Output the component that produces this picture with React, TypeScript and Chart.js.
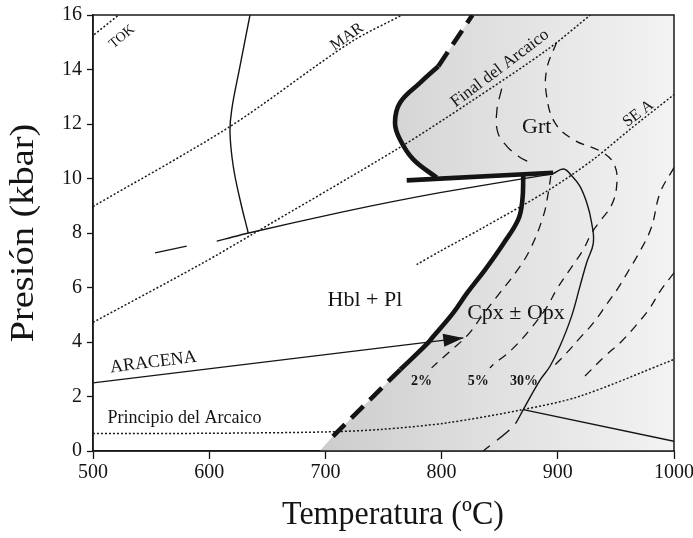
import React, { useEffect, useRef } from 'react';
import { Chart, registerables } from 'chart.js';

Chart.register(...registerables);

// ---------- axes ----------
const temperatureTicks = [500, 600, 700, 800, 900, 1000];
const pressureTicks = [0, 2, 4, 6, 8, 10, 12, 14, 16];

// ---------- geotherms (dotted) ----------
const tokT = [501, 522];
const tokP = [15.28, 16.0];
const marT = [500, 618, 721, 766];
const marP = [8.97, 11.91, 14.98, 16.0];
const finalArcaicoT = [500, 592, 637, 764, 824, 891, 928];
const finalArcaicoP = [4.72, 6.84, 7.95, 11.14, 12.79, 14.73, 16.0];
const seaT = [778.5, 798.6, 833, 893, 930.6, 962, 1000];
const seaP = [6.84, 7.33, 8.13, 9.6, 10.7, 11.8, 13.08];
const principioT = [500, 600, 700, 747, 804, 870, 919, 1000];
const principioP = [0.64, 0.65, 0.7, 0.79, 1.03, 1.52, 2.01, 3.36];

// ---------- ARACENA path ----------
const aracenaT = [500, 818.7];
const aracenaP = [2.5, 4.15];

// ---------- thin solid boundaries ----------
const hblOutT = [635.1, 626.5, 619.4, 617.9, 620.7, 626.5, 633.6];
const hblOutP = [16, 14.12, 12.53, 11.68, 10.45, 9.23, 8.0];
const hblPlT = [606.5, 634, 712, 798.6, 893];
const hblPlP = [7.7, 8.0, 8.75, 9.48, 10.15];
const hblPlExtT = [553.4, 580.6];
const hblPlExtP = [7.27, 7.52];
const melt30T = [896, 905, 912, 919, 925, 929, 930.6, 924.8, 919.1, 911.9, 901.9, 893.3, 884.7, 870.3];
const melt30P = [10.18, 10.35, 10.1, 9.72, 9.1, 8.4, 7.64, 6.91, 6.05, 4.95, 3.85, 3.11, 2.6, 1.52];
const melt30TailT = [870.3, 861.7, 835.9];
const melt30TailP = [1.52, 0.91, 0.0];
const lowRightT = [870.3, 1000];
const lowRightP = [1.52, 0.36];

// ---------- solidus (bold) ----------
const solidusHorizT = [770, 896];
const solidusHorizP = [9.93, 10.21];
const solidusUpperT = [797.2, 781.4, 764.2, 759.9, 764.2, 775.6, 795.8];
const solidusUpperP = [14.12, 13.51, 12.78, 12.04, 11.43, 10.7, 10.03];
const solidusUpperDashT = [797.2, 826.5];
const solidusUpperDashP = [14.12, 16.0];
const solidusLowerT = [870.3, 869.5, 866, 853, 837.5, 822, 810, 793, 787, 764.5];
const solidusLowerP = [10.15, 9.2, 8.5, 7.6, 6.66, 5.8, 5.07, 4.21, 3.91, 2.99];
const solidusLowerDashT = [764.5, 706.5];
const solidusLowerDashP = [2.99, 0.54];
const shadeEdgeT = [695];

// ---------- thin dashed (Grt field and melt isopleths) ----------
const grtLeftT = [851.7, 847.6, 848.3, 856, 866, 876];
const grtLeftP = [13.3, 12.5, 11.7, 11.19, 10.82, 10.58];
const melt5T = [899, 890.4, 890.4, 897.6, 913.3, 939.2, 949.2, 950.6, 946, 936.3, 929.1, 921.9, 910.4, 899, 891, 876.1, 860.3, 844.5, 841.5];
const melt5P = [15.0, 14.0, 13.02, 12.04, 11.43, 10.94, 10.45, 9.7, 9.0, 8.43, 8.0, 7.39, 6.66, 5.93, 5.31, 4.46, 3.72, 3.17, 3.05];
const melt2T = [894, 891.8, 887.5, 876.1, 864.6, 850.3, 834.6, 823, 807.2, 791.4];
const melt2P = [10.1, 9.47, 8.62, 7.39, 6.6, 5.81, 4.95, 4.28, 3.66, 3.05];
const isoAT = [1000, 988, 980.5, 970.7, 961.5, 952, 942, 930.6, 919.1, 907.6, 894];
const isoAP = [10.4, 9.47, 8.2, 7.33, 6.66, 5.99, 5.38, 4.7, 4.15, 3.6, 3.0];
const isoBT = [1000, 988, 979.3, 967.9, 955, 940.6, 923.4];
const isoBP = [6.54, 5.86, 5.25, 4.64, 4.03, 3.48, 2.75];

// ---------- text ----------
const xTitle = 'Temperatura (ºC)';
const yTitle = 'Presión (kbar)';
const plotLabels = [
  { text: 'Hbl + Pl', t: 734, p: 5.32, size: 22, angle: 0, bold: false, middle: false },
  { text: 'Cpx ± Opx', t: 864, p: 4.85, size: 22, angle: 0, bold: false, middle: false },
  { text: 'Grt', t: 881.8, p: 11.68, size: 22, angle: 0, bold: false, middle: false },
  { text: '2%', t: 782.8, p: 2.44, size: 14, angle: 0, bold: true, middle: false },
  { text: '5%', t: 831.6, p: 2.44, size: 14, angle: 0, bold: true, middle: false },
  { text: '30%', t: 871, p: 2.44, size: 14, angle: 0, bold: true, middle: false },
  { text: 'ARACENA', t: 552.5, p: 3.08, size: 18, angle: -7.1, bold: false, middle: false },
  { text: 'Principio del Arcaico', t: 578.7, p: 1.03, size: 18, angle: 0, bold: false, middle: false },
  { text: 'TOK', t: 525, p: 15.2, size: 14, angle: -40, bold: false, middle: true },
  { text: 'MAR', t: 718.6, p: 15.2, size: 16, angle: -35, bold: false, middle: true },
  { text: 'Final del Arcaico', t: 850.3, p: 14.04, size: 17, angle: -37, bold: false, middle: true },
  { text: 'SE A', t: 969.3, p: 12.38, size: 16, angle: -37, bold: false, middle: true },
];

const INK = '#141414';
const SERIF = '"Liberation Serif", "Times New Roman", "DejaVu Serif", serif';

const pts = (t: number[], p: number[]) => t.map((v, i) => ({ x: v, y: p[i] }));

type Kind = 'dotted' | 'thin' | 'bold' | 'boldDash' | 'dash' | 'grtDash' | 'longDash';

function line(label: string, t: number[], p: number[], kind: Kind, tension = 0.35) {
  const base: any = {
    label,
    data: pts(t, p),
    showLine: true,
    pointRadius: 0,
    pointHoverRadius: 0,
    fill: false,
    tension,
    borderColor: INK,
    borderCapStyle: 'butt',
    borderJoinStyle: 'round',
  };
  switch (kind) {
    case 'dotted':
      return { ...base, borderWidth: 1.5, borderDash: [2, 2], borderColor: '#1a1a1a' };
    case 'thin':
      return { ...base, borderWidth: 1.4 };
    case 'bold':
      return { ...base, borderWidth: 4.6 };
    case 'boldDash':
      return { ...base, borderWidth: 4.6, borderDash: [17, 9] };
    case 'dash':
      return { ...base, borderWidth: 1.3, borderDash: [9, 7] };
    case 'grtDash':
      return { ...base, borderWidth: 1.3, borderDash: [11, 8] };
    case 'longDash':
      return { ...base, borderWidth: 1.4, borderDash: [16, 9] };
  }
}

const figurePlugin = {
  id: 'figureExtras',
  afterDatasetsDraw(chart: any) {
    const { ctx, chartArea, scales } = chart;
    const xs = scales.x;
    const ys = scales.y;
    ctx.save();

    // arrow head at end of ARACENA path
    const idx = chart.data.datasets.findIndex((d: any) => d.label === 'ARACENA');
    if (idx >= 0) {
      const meta = chart.getDatasetMeta(idx);
      const n = meta.data.length;
      const a = meta.data[n - 2];
      const b = meta.data[n - 1];
      const ang = Math.atan2(b.y - a.y, b.x - a.x);
      const len = 20;
      const half = 6.5;
      const bx = b.x - len * Math.cos(ang);
      const by = b.y - len * Math.sin(ang);
      ctx.beginPath();
      ctx.moveTo(b.x, b.y);
      ctx.lineTo(bx + half * Math.sin(ang), by - half * Math.cos(ang));
      ctx.lineTo(bx - half * Math.sin(ang), by + half * Math.cos(ang));
      ctx.closePath();
      ctx.fillStyle = INK;
      ctx.fill();
    }

    // frame
    ctx.strokeStyle = '#1a1a1a';
    ctx.lineWidth = 1.5;
    ctx.strokeRect(chartArea.left, chartArea.top, chartArea.right - chartArea.left, chartArea.bottom - chartArea.top);

    // labels inside the plot
    ctx.fillStyle = INK;
    ctx.textAlign = 'center';
    for (const l of plotLabels) {
      const px = xs.getPixelForValue(l.t);
      const py = ys.getPixelForValue(l.p);
      ctx.save();
      ctx.translate(px, py);
      ctx.rotate((l.angle * Math.PI) / 180);
      ctx.font = `${l.bold ? 'bold ' : ''}${l.size}px ${SERIF}`;
      ctx.textBaseline = l.middle ? 'middle' : 'alphabetic';
      ctx.fillText(l.text, 0, 0);
      ctx.restore();
    }

    // axis titles
    ctx.save();
    ctx.font = `32px ${SERIF}`;
    ctx.textBaseline = 'alphabetic';
    ctx.translate(393, 524);
    ctx.scale(1, 1.08);
    ctx.fillText(xTitle, 0, 0);
    ctx.restore();

    ctx.save();
    ctx.font = `34px ${SERIF}`;
    ctx.textBaseline = 'alphabetic';
    ctx.translate(33, (chartArea.top + chartArea.bottom) / 2);
    ctx.rotate(-Math.PI / 2);
    ctx.scale(1.13, 1);
    ctx.fillText(yTitle, 0, 0);
    ctx.restore();

    ctx.restore();
  },
};

export default function App() {
  const canvasRef = useRef<HTMLCanvasElement | null>(null);

  useEffect(() => {
    document.body.style.margin = '0';
    const canvas = canvasRef.current;
    if (!canvas) return;

    const shadePolygon = [
      { x: shadeEdgeT[0], y: 0 },
      ...pts(solidusLowerDashT, solidusLowerDashP).reverse(),
      ...pts(solidusLowerT, solidusLowerP).reverse().slice(1),
      ...pts(solidusUpperT, solidusUpperP).reverse(),
      ...pts(solidusUpperDashT, solidusUpperDashP).slice(1),
      { x: 1000, y: 16 },
      { x: 1000, y: 0 },
    ];

    const shade: any = {
      label: 'melt field',
      data: shadePolygon,
      showLine: true,
      pointRadius: 0,
      tension: 0,
      borderWidth: 0,
      borderColor: 'rgba(0,0,0,0)',
      fill: 'shape',
      order: 10,
      backgroundColor: (c: any) => {
        const ch = c.chart;
        if (!ch.chartArea || !ch.scales || !ch.scales.x) return '#e0e0e0';
        const xs = ch.scales.x;
        const g = ch.ctx.createLinearGradient(xs.getPixelForValue(700), 0, xs.getPixelForValue(1000), 0);
        g.addColorStop(0, '#cdcdcd');
        g.addColorStop(0.35, '#dbdbdb');
        g.addColorStop(0.7, '#e8e8e8');
        g.addColorStop(1, '#f3f3f3');
        return g;
      },
    };

    const datasets: any[] = [
      shade,
      line('TOK', tokT, tokP, 'dotted', 0),
      line('MAR', marT, marP, 'dotted', 0.3),
      line('Final del Arcaico', finalArcaicoT, finalArcaicoP, 'dotted', 0.3),
      line('SE A', seaT, seaP, 'dotted', 0.3),
      line('Principio del Arcaico', principioT, principioP, 'dotted', 0.3),
      line('ARACENA', aracenaT, aracenaP, 'thin', 0),
      line('Hbl out', hblOutT, hblOutP, 'thin', 0.4),
      line('Hbl+Pl upper', hblPlT, hblPlP, 'thin', 0.2),
      line('Hbl+Pl ext', hblPlExtT, hblPlExtP, 'thin', 0),
      line('30%', melt30T, melt30P, 'thin', 0.4),
      line('30% tail', melt30TailT, melt30TailP, 'longDash', 0.3),
      line('low right', lowRightT, lowRightP, 'thin', 0),
      line('Grt left', grtLeftT, grtLeftP, 'grtDash', 0.4),
      line('5%', melt5T, melt5P, 'dash', 0.4),
      line('2%', melt2T, melt2P, 'dash', 0.4),
      line('iso A', isoAT, isoAP, 'dash', 0.4),
      line('iso B', isoBT, isoBP, 'dash', 0.4),
      line('solidus horiz', solidusHorizT, solidusHorizP, 'bold', 0),
      line('solidus upper', solidusUpperT, solidusUpperP, 'bold', 0.4),
      line('solidus upper dash', solidusUpperDashT, solidusUpperDashP, 'boldDash', 0),
      line('solidus lower', solidusLowerT, solidusLowerP, 'bold', 0.4),
      line('solidus lower dash', solidusLowerDashT, solidusLowerDashP, 'boldDash', 0),
    ];

    const tickFont = { family: SERIF, size: 20 };
    const plain = (v: any) => String(v);

    const chart = new Chart(canvas, {
      type: 'scatter',
      data: { datasets },
      plugins: [figurePlugin],
      options: {
        animation: false,
        responsive: true,
        maintainAspectRatio: false,
        events: [],
        layout: { padding: { top: 15, right: 19, left: 0, bottom: 0 } },
        plugins: {
          legend: { display: false },
          tooltip: { enabled: false },
          title: { display: false },
        },
        scales: {
          x: {
            type: 'linear',
            min: 500,
            max: 1000,
            afterBuildTicks: (s: any) => {
              s.ticks = temperatureTicks.map((v) => ({ value: v }));
            },
            afterFit: (s: any) => {
              s.height = 87;
              s.paddingLeft = 0;
              s.paddingRight = 0;
            },
            ticks: { font: tickFont, color: INK, padding: 2, maxRotation: 0, autoSkip: false, callback: plain },
            grid: { display: true, drawOnChartArea: false, drawTicks: true, tickLength: 8, tickWidth: 1.3, tickColor: INK },
            border: { display: true, color: INK, width: 1.5 },
          },
          y: {
            type: 'linear',
            min: 0,
            max: 16,
            afterBuildTicks: (s: any) => {
              s.ticks = pressureTicks.map((v) => ({ value: v }));
            },
            afterFit: (s: any) => {
              s.width = 93;
              s.paddingTop = 0;
              s.paddingBottom = 0;
            },
            ticks: { font: tickFont, color: INK, padding: 5, autoSkip: false, callback: plain },
            grid: { display: true, drawOnChartArea: false, drawTicks: true, tickLength: 6, tickWidth: 1.3, tickColor: INK },
            border: { display: true, color: INK, width: 1.5 },
          },
        },
      } as any,
    });

    return () => {
      chart.destroy();
    };
  }, []);

  return (
    <div style={{ position: 'fixed', left: 0, top: 0, width: 693, height: 538, background: '#ffffff' }}>
      <canvas ref={canvasRef} />
    </div>
  );
}
